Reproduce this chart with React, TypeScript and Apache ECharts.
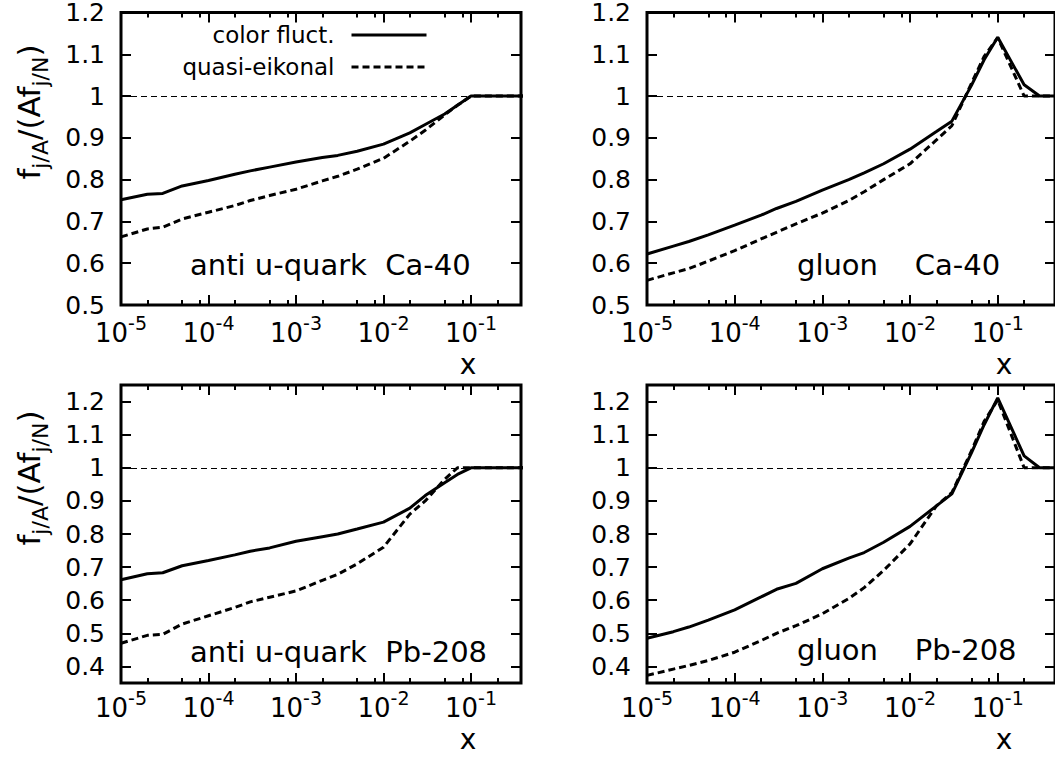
import React, { useEffect, useRef } from "react";
import * as echarts from "echarts";

// ---- data ----
const X = [1e-5, 2e-5, 3e-5, 5e-5, 1e-4, 2e-4, 3e-4, 5e-4, 1e-3, 2e-3, 3e-3, 5e-3, 1e-2, 2e-2, 3e-2, 5e-2, 7e-2, 0.1, 0.2, 0.3, 0.45];

const ubarCaColor = [0.752, 0.765, 0.767, 0.785, 0.798, 0.813, 0.821, 0.83, 0.842, 0.853, 0.858, 0.868, 0.885, 0.912, 0.932, 0.957, 0.978, 1.0, 1.0, 1.0, 1.0];
const ubarCaQE = [0.663, 0.682, 0.686, 0.706, 0.722, 0.738, 0.75, 0.762, 0.777, 0.797, 0.808, 0.825, 0.851, 0.892, 0.918, 0.955, 0.978, 1.0, 1.0, 1.0, 1.0];
const gluonCaColor = [0.622, 0.641, 0.652, 0.668, 0.691, 0.715, 0.731, 0.748, 0.775, 0.8, 0.816, 0.838, 0.873, 0.915, 0.94, 1.025, 1.087, 1.141, 1.027, 1.0, 1.0];
const gluonCaQE = [0.559, 0.577, 0.587, 0.605, 0.63, 0.658, 0.674, 0.694, 0.72, 0.75, 0.771, 0.8, 0.838, 0.895, 0.929, 1.03, 1.095, 1.14, 1.0, 1.0, 1.0];
const ubarPbColor = [0.662, 0.68, 0.683, 0.704, 0.72, 0.737, 0.748, 0.758, 0.778, 0.792, 0.8, 0.815, 0.836, 0.878, 0.916, 0.955, 0.98, 1.0, 1.0, 1.0, 1.0];
const ubarPbQE = [0.47, 0.494, 0.497, 0.528, 0.553, 0.578, 0.595, 0.609, 0.628, 0.66, 0.678, 0.71, 0.76, 0.86, 0.9, 0.965, 1.0, 1.0, 1.0, 1.0, 1.0];
const gluonPbColor = [0.485, 0.505, 0.519, 0.54, 0.571, 0.61, 0.633, 0.651, 0.695, 0.727, 0.744, 0.775, 0.823, 0.885, 0.921, 1.044, 1.13, 1.211, 1.036, 1.0, 1.0];
const gluonPbQE = [0.373, 0.392, 0.403, 0.418, 0.443, 0.478, 0.5, 0.523, 0.559, 0.605, 0.638, 0.69, 0.77, 0.885, 0.925, 1.05, 1.14, 1.205, 1.0, 1.0, 1.0];

const MAJOR_X = [1e-5, 1e-4, 1e-3, 1e-2, 1e-1];
const MINOR_X = [2e-5, 5e-5, 8e-5, 2e-4, 5e-4, 8e-4, 2e-3, 5e-3, 8e-3, 2e-2, 5e-2, 8e-2, 2e-1];
const Y_TICKS_TOP = [0.5, 0.6, 0.7, 0.8, 0.9, 1, 1.1, 1.2];
const Y_TICKS_BOTTOM = [0.4, 0.5, 0.6, 0.7, 0.8, 0.9, 1, 1.1, 1.2];
const LEGEND = ["color fluct.", "quasi-eikonal"];
const PANEL_LABELS = ["anti u-quark  Ca-40", "gluon    Ca-40", "anti u-quark  Pb-208", "gluon    Pb-208"];

const FONT = "DejaVu Sans";

type Panel = {
  grid: { left: number; top: number; width: number; height: number };
  xMax: number;
  yMin: number;
  yMax: number;
  yTicks: number[];
  solid: number[];
  dashed: number[];
  label: string;
  labelX: number;
  labelY: number;
  axisX: number;
  axisY: number;
  titleY: number;
  xLabelMargin: number;
};

const PANELS: Panel[] = [
  { grid: { left: 121, top: 8, width: 400, height: 297 }, xMax: 0.373, yMin: 0.5, yMax: 1.2, yTicks: Y_TICKS_TOP, solid: ubarCaColor, dashed: ubarCaQE, label: PANEL_LABELS[0], labelX: 190, labelY: 265, axisX: 468, axisY: 364, titleY: 112, xLabelMargin: 17 },
  { grid: { left: 647, top: 8, width: 415, height: 297 }, xMax: 0.45, yMin: 0.5, yMax: 1.2, yTicks: Y_TICKS_TOP, solid: gluonCaColor, dashed: gluonCaQE, label: PANEL_LABELS[1], labelX: 797, labelY: 265, axisX: 1004, axisY: 364, titleY: 0, xLabelMargin: 17 },
  { grid: { left: 121, top: 385, width: 400, height: 298 }, xMax: 0.373, yMin: 0.35, yMax: 1.25, yTicks: Y_TICKS_BOTTOM, solid: ubarPbColor, dashed: ubarPbQE, label: PANEL_LABELS[2], labelX: 190, labelY: 652, axisX: 468, axisY: 739, titleY: 478, xLabelMargin: 14 },
  { grid: { left: 647, top: 385, width: 415, height: 298 }, xMax: 0.45, yMin: 0.35, yMax: 1.25, yTicks: Y_TICKS_BOTTOM, solid: gluonPbColor, dashed: gluonPbQE, label: PANEL_LABELS[3], labelX: 797, labelY: 650, axisX: 1004, axisY: 739, titleY: 0, xLabelMargin: 14 },
];

const DASH = [7, 4];

export default function App() {
  const ref = useRef<HTMLDivElement>(null);
  useEffect(() => {
    if (!ref.current) return;
    const chart = echarts.init(ref.current, undefined, { renderer: "svg" });

    const grids: any[] = [];
    const xAxes: any[] = [];
    const yAxes: any[] = [];
    const series: any[] = [];
    const graphics: any[] = [];

    const tickStyle = { color: "#000", width: 2 };

    PANELS.forEach((p, g) => {
      grids.push({ ...p.grid, show: true, borderColor: "#000", borderWidth: 3, backgroundColor: "transparent", containLabel: false });
      const baseX = { type: "log", logBase: 10, min: 1e-5, max: p.xMax, gridIndex: g, splitLine: { show: false }, axisLine: { show: false } };
      xAxes.push({
        ...baseX,
        position: "bottom",
        axisTick: { show: true, inside: true, length: 10, lineStyle: tickStyle, customValues: MAJOR_X },
        axisLabel: {
          show: true,
          customValues: MAJOR_X,
          margin: p.xLabelMargin,
          formatter: (v: number) => `{b|10}{s|${Math.round(Math.log10(v))}}`,
          rich: {
            b: { fontFamily: FONT, fontSize: 26, color: "#000", lineHeight: 24, verticalAlign: "bottom" },
            s: { fontFamily: FONT, fontSize: 19, color: "#000", height: 2, lineHeight: 2, verticalAlign: "top" },
          },
        },
      });
      xAxes.push({ ...baseX, position: "bottom", axisLabel: { show: false }, axisTick: { show: true, inside: true, length: 5, lineStyle: tickStyle, customValues: MINOR_X } });
      xAxes.push({ ...baseX, position: "top", axisLabel: { show: false }, axisTick: { show: true, inside: true, length: 10, lineStyle: tickStyle, customValues: MAJOR_X } });
      xAxes.push({ ...baseX, position: "top", axisLabel: { show: false }, axisTick: { show: true, inside: true, length: 5, lineStyle: tickStyle, customValues: MINOR_X } });

      const baseY = { type: "value", min: p.yMin, max: p.yMax, gridIndex: g, splitLine: { show: false }, axisLine: { show: false } };
      yAxes.push({
        ...baseY,
        position: "left",
        axisTick: { show: true, inside: true, length: 10, lineStyle: tickStyle, customValues: p.yTicks },
        axisLabel: {
          show: true,
          customValues: p.yTicks,
          margin: 16,
          fontFamily: FONT,
          fontSize: 25,
          color: "#000",
          formatter: (v: number) => String(Math.round(v * 10) / 10),
        },
      });
      yAxes.push({ ...baseY, position: "right", axisLabel: { show: false }, axisTick: { show: true, inside: true, length: 10, lineStyle: tickStyle, customValues: p.yTicks } });

      series.push({
        type: "line",
        name: LEGEND[0],
        xAxisIndex: g * 4,
        yAxisIndex: g * 2,
        data: X.map((x, i) => [x, p.solid[i]]),
        symbol: "none",
        showSymbol: false,
        clip: true,
        lineStyle: { color: "#000", width: 3, type: "solid" },
        itemStyle: { color: "#000" },
        z: 3,
        markLine: {
          silent: true,
          symbol: ["none", "none"],
          label: { show: false },
          lineStyle: { color: "#000", width: 1, type: [6, 4] },
          data: [{ yAxis: 1 }],
          z: 2,
        },
      });
      series.push({
        type: "line",
        name: LEGEND[1],
        xAxisIndex: g * 4,
        yAxisIndex: g * 2,
        data: X.map((x, i) => [x, p.dashed[i]]),
        symbol: "none",
        showSymbol: false,
        clip: true,
        lineStyle: { color: "#000", width: 3, type: DASH },
        itemStyle: { color: "#000" },
        z: 3,
      });

      graphics.push({
        type: "text",
        x: p.labelX,
        y: p.labelY,
        style: { text: p.label, fontFamily: FONT, fontSize: 29, fill: "#000", align: "left", verticalAlign: "middle" },
      });
      graphics.push({
        type: "text",
        x: p.axisX,
        y: p.axisY,
        style: { text: "x", fontFamily: FONT, fontSize: 28, lineHeight: 20, fill: "#000", align: "center", verticalAlign: "middle" },
      });
      if (g % 2 === 0) {
        graphics.push({
          type: "text",
          x: 32,
          y: p.titleY,
          rotation: Math.PI / 2,
          style: {
            text: "{m|f}{s|j/A}{m|/(Af}{s|j/N}{m|)}",
            align: "center",
            verticalAlign: "middle",
            rich: {
              m: { fontFamily: FONT, fontSize: 31, fill: "#000", lineHeight: 38, verticalAlign: "top" },
              s: { fontFamily: FONT, fontSize: 22, fill: "#000", lineHeight: 20, verticalAlign: "bottom" },
            },
          },
        });
      }
    });

    chart.setOption({
      animation: false,
      backgroundColor: "#fff",
      grid: grids,
      xAxis: xAxes,
      yAxis: yAxes,
      series,
      graphic: graphics,
      legend: {
        data: LEGEND,
        orient: "vertical",
        align: "right",
        right: 1055 - 428,
        top: 23,
        padding: 0,
        itemGap: 8,
        itemWidth: 75,
        itemHeight: 14,
        selectedMode: false,
        textStyle: { fontFamily: FONT, fontSize: 23, color: "#000", lineHeight: 24, padding: [0, 12, 0, 0] },
        itemStyle: { color: "rgba(0,0,0,0)", borderWidth: 0, opacity: 0 },
        lineStyle: { width: 3 },
      },
    });
    return () => chart.dispose();
  }, []);
  return <div ref={ref} style={{ position: "fixed", left: 0, top: 0, width: 1055, height: 757, background: "#fff" }} />;
}
